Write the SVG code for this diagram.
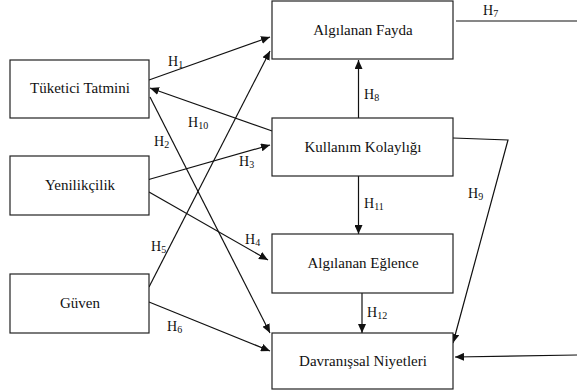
<svg xmlns="http://www.w3.org/2000/svg" width="577" height="392" viewBox="0 0 577 392">
  <style>
    .box { fill: #ffffff; stroke: #222222; stroke-width: 1.2; }
    .name { font-family: 'Liberation Serif', 'DejaVu Serif', serif; font-size: 15px; fill: #111111; text-anchor: middle; }
    .lbl { font-family: 'Liberation Serif', 'DejaVu Serif', serif; font-size: 14px; fill: #111111; }
    .sub { font-size: 10px; }
    .link { fill: none; stroke: #111111; stroke-width: 1.2; }
  </style>
  <defs>
    <marker id="arrow" markerUnits="userSpaceOnUse" markerWidth="10" markerHeight="8" refX="9" refY="4" orient="auto">
      <path d="M0,0 L9,4 L0,8 z" fill="#111111"/>
    </marker>
  </defs>
  <rect width="577" height="392" fill="#ffffff"/>

  <g id="connectors">
    <!-- H1 -->
    <line class="link" x1="149" y1="80" x2="270" y2="37" marker-end="url(#arrow)"/>
    <!-- H10 -->
    <line class="link" x1="275" y1="132" x2="150" y2="88" marker-end="url(#arrow)"/>
    <!-- H2 -->
    <line class="link" x1="150" y1="97" x2="270" y2="333" marker-end="url(#arrow)"/>
    <!-- H3 -->
    <line class="link" x1="147" y1="180" x2="270" y2="145" marker-end="url(#arrow)"/>
    <!-- H4 -->
    <line class="link" x1="149" y1="192" x2="268" y2="260" marker-end="url(#arrow)"/>
    <!-- H5 -->
    <line class="link" x1="149" y1="287" x2="270" y2="51" marker-end="url(#arrow)"/>
    <!-- H6 -->
    <line class="link" x1="149" y1="302" x2="270" y2="351" marker-end="url(#arrow)"/>
    <!-- H7 -->
    <line class="link" x1="456" y1="21" x2="577" y2="21"/>
    <!-- H8 -->
    <line class="link" x1="358.5" y1="118" x2="358.5" y2="60" marker-end="url(#arrow)"/>
    <!-- H9 -->
    <polyline class="link" points="453,138 508,140 453,343" marker-end="url(#arrow)"/>
    <!-- H11 -->
    <line class="link" x1="358.5" y1="176" x2="358.5" y2="234" marker-end="url(#arrow)"/>
    <!-- H12 -->
    <line class="link" x1="362" y1="293" x2="362" y2="333" marker-end="url(#arrow)"/>
    <!-- incoming from the right -->
    <line class="link" x1="577" y1="355" x2="455" y2="357" marker-end="url(#arrow)"/>
  </g>

  <g id="tuketici-tatmini">
    <rect class="box" x="10" y="60" width="139" height="58"/>
    <text class="name" x="80" y="93">Tüketici Tatmini</text>
  </g>
  <g id="yenilikcilik">
    <rect class="box" x="10" y="156" width="139" height="59"/>
    <text class="name" x="80" y="190">Yenilikçilik</text>
  </g>
  <g id="guven">
    <rect class="box" x="10" y="274" width="139" height="59"/>
    <text class="name" x="80" y="308">Güven</text>
  </g>
  <g id="algilanan-fayda">
    <rect class="box" x="272" y="1" width="181" height="58"/>
    <text class="name" x="363" y="35">Algılanan Fayda</text>
  </g>
  <g id="kullanim-kolayligi">
    <rect class="box" x="272" y="118" width="181" height="58"/>
    <text class="name" x="363" y="152">Kullanım Kolaylığı</text>
  </g>
  <g id="algilanan-eglence">
    <rect class="box" x="272" y="234" width="181" height="59"/>
    <text class="name" x="363" y="268">Algılanan Eğlence</text>
  </g>
  <g id="davranissal-niyetleri">
    <rect class="box" x="272" y="333" width="181" height="56"/>
    <text class="name" x="363" y="366">Davranışsal Niyetleri</text>
  </g>

  <g id="labels">
    <text class="lbl" x="168" y="66">H<tspan class="sub" dy="2">1</tspan></text>
    <text class="lbl" x="154" y="146">H<tspan class="sub" dy="2">2</tspan></text>
    <text class="lbl" x="239" y="166">H<tspan class="sub" dy="2">3</tspan></text>
    <text class="lbl" x="245" y="244">H<tspan class="sub" dy="2">4</tspan></text>
    <text class="lbl" x="151" y="251">H<tspan class="sub" dy="2">5</tspan></text>
    <text class="lbl" x="167" y="331">H<tspan class="sub" dy="2">6</tspan></text>
    <text class="lbl" x="483" y="15">H<tspan class="sub" dy="2">7</tspan></text>
    <text class="lbl" x="364" y="99">H<tspan class="sub" dy="2">8</tspan></text>
    <text class="lbl" x="468" y="198">H<tspan class="sub" dy="2">9</tspan></text>
    <text class="lbl" x="188" y="127">H<tspan class="sub" dy="2">10</tspan></text>
    <text class="lbl" x="364" y="208">H<tspan class="sub" dy="2">11</tspan></text>
    <text class="lbl" x="367" y="317">H<tspan class="sub" dy="2">12</tspan></text>
  </g>
</svg>
